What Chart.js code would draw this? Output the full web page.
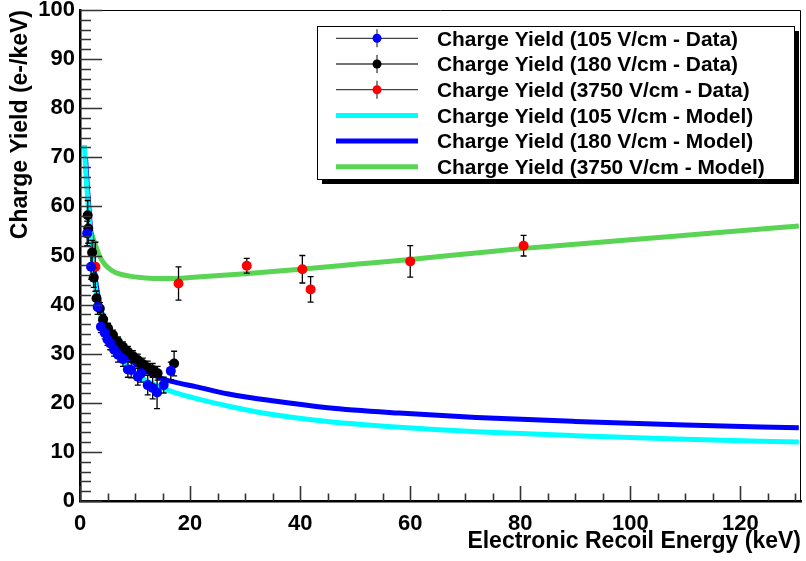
<!DOCTYPE html>
<html>
<head>
<meta charset="utf-8">
<title>Charge Yield</title>
<script src="https://cdn.jsdelivr.net/npm/chart.js@4.4.1/dist/chart.umd.min.js"></script>
<style>
  html, body { margin: 0; padding: 0; background: #fff; }
  #wrap { width: 806px; height: 561px; }
</style>
</head>
<body>
<div id="wrap"><canvas id="cy" width="806" height="561"></canvas></div>
<script>
// measured points: energy (keV), charge yield (e-/keV), error
const e105  = [1.3, 2.0, 3.2, 3.8, 4.5, 5.0, 5.5, 6.2, 6.9, 7.8, 8.7, 9.3, 10.5, 11.1, 12.3, 13.2, 14.0, 15.2, 16.5];
const q105  = [54.5, 47.7, 39.5, 35.5, 34.2, 32.9, 32.1, 30.8, 29.8, 28.9, 26.8, 26.7, 25.3, 26.0, 23.6, 23.0, 22.1, 23.6, 26.5];
const dq105 = [2.5, 2.5, 1.5, 1.2, 1.2, 1.2, 1.3, 1.3, 1.5, 1.5, 1.6, 1.6, 1.7, 1.8, 2.0, 2.2, 3.3, 1.6, 1.8];

const e180  = [1.4, 1.5, 2.2, 2.5, 3.0, 3.6, 4.2, 5.1, 6.0, 6.9, 7.8, 8.7, 9.6, 10.5, 11.4, 12.3, 13.2, 14.1, 17.1];
const q180  = [58.2, 55.5, 50.6, 45.5, 41.3, 39.2, 37.0, 35.2, 33.8, 32.4, 31.4, 30.4, 29.5, 28.7, 27.9, 27.2, 26.7, 26.0, 28.0];
const dq180 = [3.0, 3.0, 2.5, 2.0, 1.5, 1.2, 1.0, 1.0, 1.0, 1.0, 1.0, 1.1, 1.1, 1.2, 1.2, 1.3, 1.3, 1.4, 2.5];

const e3750  = [2.8, 17.9, 30.3, 40.4, 41.9, 60.0, 80.6];
const q3750  = [47.7, 44.3, 47.9, 47.2, 43.1, 48.8, 52.0];
const dq3750 = [5.0, 3.4, 1.5, 2.8, 2.6, 3.2, 2.1];

// model curves
const mE105 = [0.8, 1.0, 1.3, 1.6, 2.0, 2.5, 3.0, 3.5, 4.0, 5.0, 6.0, 7.0, 8.0, 9.0, 10.0, 12.0, 15.0, 18.0, 21.0, 27.0, 35.0, 45.0, 58.0, 72.0, 90.0, 110.0, 130.6];
const mQ105 = [72.5, 68.0, 63.0, 58.5, 52.5, 46.5, 42.0, 39.0, 36.8, 33.7, 31.5, 29.7, 28.3, 27.1, 26.1, 24.5, 23.0, 21.8, 20.9, 19.3, 17.6, 16.2, 15.0, 14.1, 13.3, 12.6, 12.0];

const mE180 = [1.0, 1.3, 1.6, 2.0, 2.5, 3.0, 3.5, 4.0, 5.0, 6.0, 7.0, 8.0, 9.0, 10.0, 12.0, 15.0, 18.0, 21.0, 27.0, 35.0, 45.0, 58.0, 72.0, 90.0, 110.0, 130.6];
const mQ180 = [70.0, 64.5, 60.0, 54.0, 48.0, 43.5, 40.5, 38.2, 35.2, 33.0, 31.3, 30.0, 28.9, 28.0, 26.5, 24.9, 24.0, 23.3, 21.8, 20.4, 19.0, 17.9, 17.0, 16.2, 15.5, 14.9];

const mE3750 = [1.6, 2.0, 2.7, 3.6, 4.5, 5.7, 7.0, 9.0, 11.0, 14.0, 17.0, 20.0, 30.0, 40.0, 50.0, 60.0, 70.0, 80.0, 90.0, 100.0, 115.0, 130.6];
const mQ3750 = [56.5, 54.8, 52.5, 49.8, 48.2, 47.0, 46.3, 45.8, 45.5, 45.3, 45.3, 45.5, 46.3, 47.2, 48.2, 49.2, 50.3, 51.4, 52.3, 53.2, 54.6, 56.0];

// axes
const xTickValues = [0, 20, 40, 60, 80, 100, 120];
const yTickValues = [0, 10, 20, 30, 40, 50, 60, 70, 80, 90, 100];
const xMinorStep = 5;
const yMinorStep = 2;

const legendLabels = [
  'Charge Yield (105 V/cm - Data)',
  'Charge Yield (180 V/cm - Data)',
  'Charge Yield (3750 V/cm - Data)',
  'Charge Yield (105 V/cm - Model)',
  'Charge Yield (180 V/cm - Model)',
  'Charge Yield (3750 V/cm - Model)'
];

const FONT = '"Liberation Sans", Arial, Helvetica, sans-serif';
const CYAN = '#00ffff', BLUE = '#0000ff', GREEN = '#59d454';

const pts = (xs, ys) => xs.map((x, i) => ({ x: x, y: ys[i] }));

function dataSet(label, xs, ys, errs, color) {
  return {
    label: label, data: pts(xs, ys), errors: errs, order: 0,
    showLine: false, pointRadius: 5, pointHoverRadius: 5,
    pointBackgroundColor: color, pointBorderWidth: 0, borderColor: color
  };
}

function modelSet(label, xs, ys, color, order) {
  return {
    label: label, data: pts(xs, ys), order: order,
    showLine: true, pointRadius: 0, borderColor: color, borderWidth: 5,
    cubicInterpolationMode: 'monotone', fill: false
  };
}

// error bars, inward ticks, frame and the boxed legend
const rootStyle = {
  id: 'rootStyle',
  beforeDatasetDraw(chart, args) {
    const ds = chart.data.datasets[args.index];
    if (!ds.errors) return;
    const ctx = chart.ctx, ys = chart.scales.y;
    const meta = chart.getDatasetMeta(args.index);
    ctx.save();
    ctx.strokeStyle = '#000';
    ctx.lineWidth = 1.3;
    meta.data.forEach((el, i) => {
      const t = ys.getPixelForValue(ds.data[i].y + ds.errors[i]);
      const b = ys.getPixelForValue(ds.data[i].y - ds.errors[i]);
      ctx.beginPath();
      ctx.moveTo(el.x, t); ctx.lineTo(el.x, b);
      ctx.moveTo(el.x - 3, t); ctx.lineTo(el.x + 3, t);
      ctx.moveTo(el.x - 3, b); ctx.lineTo(el.x + 3, b);
      ctx.stroke();
    });
    ctx.restore();
  },
  afterDraw(chart) {
    const ctx = chart.ctx, a = chart.chartArea;
    const xs = chart.scales.x, ys = chart.scales.y;
    ctx.save();

    // frame
    ctx.strokeStyle = '#000';
    ctx.lineWidth = 1;
    ctx.beginPath();
    ctx.moveTo(a.left, a.top + 0.5); ctx.lineTo(a.right - 0.5, a.top + 0.5);
    ctx.lineTo(a.right - 0.5, a.bottom);
    ctx.stroke();

    // ticks pointing into the plot
    ctx.strokeStyle = '#333';
    ctx.lineWidth = 1.6;
    ctx.beginPath();
    for (let v = 0; v <= ys.max + 1e-9; v += yMinorStep) {
      const y = Math.round(ys.getPixelForValue(v)) + 0.5;
      const len = (v % 10 === 0) ? 22 : 11;
      ctx.moveTo(a.left, y); ctx.lineTo(a.left + len, y);
    }
    for (let v = 0; v <= xs.max + 1e-9; v += xMinorStep) {
      const x = Math.round(xs.getPixelForValue(v)) + 0.5;
      const len = (v % 20 === 0) ? 15 : 7.5;
      ctx.moveTo(x, a.bottom); ctx.lineTo(x, a.bottom - len);
    }
    ctx.stroke();

    // legend box with shadow
    const bx = 317, by = 26, bw = 477, bh = 153;
    ctx.fillStyle = '#000';
    ctx.fillRect(bx + 5, by + 5, bw, bh);
    ctx.fillStyle = '#fff';
    ctx.fillRect(bx, by, bw, bh);
    ctx.strokeStyle = '#000';
    ctx.lineWidth = 1;
    ctx.strokeRect(bx + 0.5, by + 0.5, bw, bh);

    const rowY0 = 38.3, rowStep = 25.7;
    const x0 = 336, x1 = 418, xm = 377;
    const colors = [BLUE, '#000', '#ff0000', CYAN, BLUE, GREEN];
    ctx.font = 'bold 20.9px ' + FONT;
    ctx.textBaseline = 'alphabetic';
    ctx.textAlign = 'left';
    legendLabels.forEach((txt, i) => {
      const y = rowY0 + i * rowStep;
      if (i < 3) {
        ctx.strokeStyle = '#444';
        ctx.lineWidth = 1.3;
        ctx.beginPath();
        ctx.moveTo(x0, y); ctx.lineTo(x1, y);
        ctx.moveTo(xm, y - 9); ctx.lineTo(xm, y + 9);
        ctx.stroke();
        ctx.fillStyle = colors[i];
        ctx.beginPath();
        ctx.arc(xm, y, 4.5, 0, Math.PI * 2);
        ctx.fill();
      } else {
        ctx.strokeStyle = colors[i];
        ctx.lineWidth = 5;
        ctx.beginPath();
        ctx.moveTo(x0, y); ctx.lineTo(x1, y);
        ctx.stroke();
      }
      ctx.fillStyle = '#000';
      ctx.fillText(txt, 437, y + 7.3);
    });
    ctx.restore();
  }
};

new Chart(document.getElementById('cy'), {
  type: 'scatter',
  data: {
    datasets: [
      dataSet(legendLabels[0], e105, q105, dq105, BLUE),
      dataSet(legendLabels[1], e180, q180, dq180, '#000'),
      dataSet(legendLabels[2], e3750, q3750, dq3750, '#ff0000'),
      modelSet(legendLabels[3], mE105, mQ105, CYAN, 1),
      modelSet(legendLabels[4], mE180, mQ180, BLUE, 2),
      modelSet(legendLabels[5], mE3750, mQ3750, GREEN, 3)
    ]
  },
  options: {
    responsive: false,
    animation: false,
    devicePixelRatio: 1,
    layout: { padding: { top: 10, right: 1, bottom: 0, left: 0 } },
    plugins: { legend: { display: false }, tooltip: { enabled: false } },
    scales: {
      x: {
        type: 'linear', min: 0, max: 131,
        afterBuildTicks: s => { s.ticks = xTickValues.map(v => ({ value: v })); },
        afterFit: s => { s.height = 60; s.paddingLeft = 0; s.paddingRight = 0; },
        grid: { display: false, drawTicks: false },
        border: { display: true, color: '#000', width: 2.5 },
        ticks: { color: '#000', padding: 10, maxRotation: 0, autoSkip: false,
                 font: { family: FONT, size: 22, weight: 'bold' } },
        title: { display: true, text: 'Electronic Recoil Energy (keV)', align: 'end', color: '#000',
                 font: { family: FONT, size: 23, weight: 'bold' }, padding: { top: 0, bottom: 6 } }
      },
      y: {
        type: 'linear', min: 0, max: 100,
        afterBuildTicks: s => { s.ticks = yTickValues.map(v => ({ value: v })); },
        afterFit: s => { s.width = 80; s.paddingTop = 0; s.paddingBottom = 0; },
        grid: { display: false, drawTicks: false },
        border: { display: true, color: '#000', width: 2.5 },
        ticks: { color: '#000', padding: 5, autoSkip: false,
                 font: { family: FONT, size: 22, weight: 'bold' } },
        title: { display: true, text: 'Charge Yield (e-/keV)', align: 'end', color: '#000',
                 font: { family: FONT, size: 23, weight: 'bold' }, padding: { top: 7, bottom: 0 } }
      }
    }
  },
  plugins: [rootStyle]
});
</script>
</body>
</html>
